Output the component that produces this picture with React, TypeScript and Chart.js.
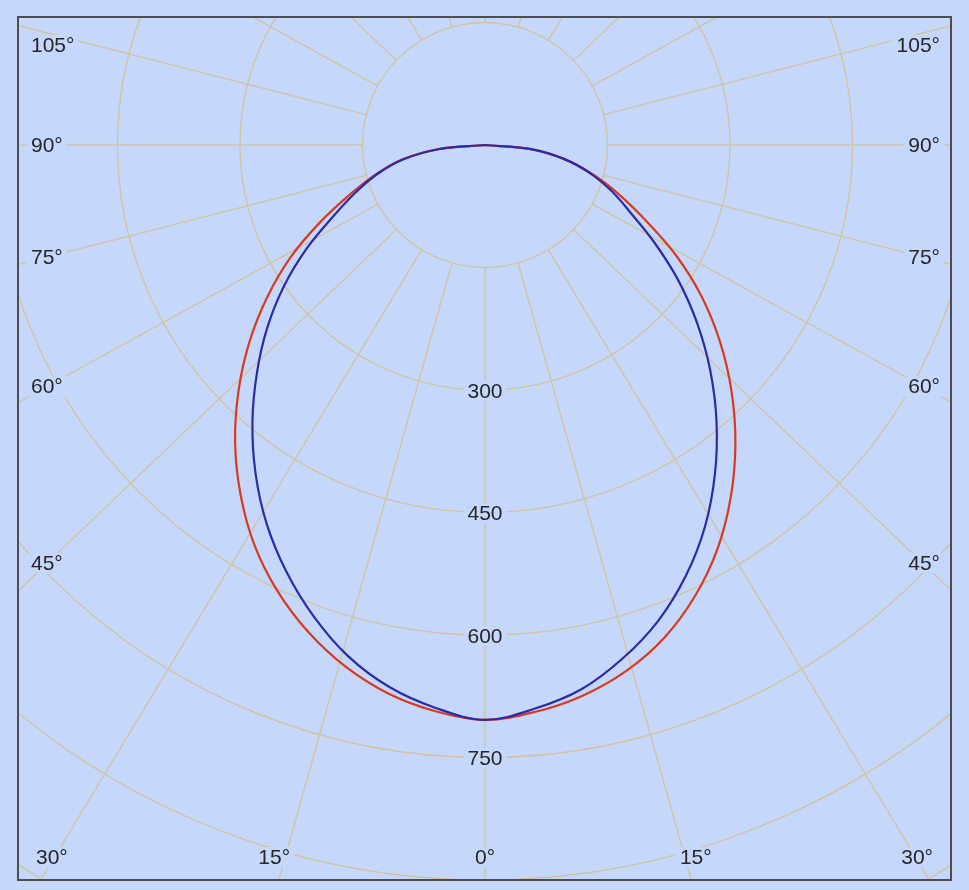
import React, { useEffect, useRef } from "react";
import { Chart, registerables } from "chart.js";

Chart.register(...registerables);

// Vertical angle gamma (degrees from nadir) and luminous intensity (cd) per C-plane half
const GAMMA_DEG = [0, 5, 10, 15, 20, 25, 30, 35, 40, 45, 50, 55, 60, 65, 70, 75, 80, 85, 90];
const C0_INTENSITY = [704, 697, 685, 667, 642, 609, 570, 525, 477, 427, 376, 324, 270, 216, 173, 135, 98, 55, 0];
const C180_INTENSITY = [704, 696, 682, 661, 634, 602, 565, 522, 476, 427, 377, 326, 275, 222, 175, 138, 104, 57, 0];
const C90_INTENSITY = [704, 693, 677, 651, 620, 582, 539, 491, 441, 390, 339, 289, 240, 197, 165, 133, 98, 55, 0];
const C270_INTENSITY = [704, 692, 674, 648, 614, 576, 535, 490, 443, 395, 348, 300, 251, 204, 168, 136, 102, 56, 0];

// Grid definition
const RING_STEP = 150;
const RING_VALUES = [150, 300, 450, 600, 750, 900, 1050, 1200];
const RING_LABEL_VALUES = [300, 450, 600, 750];
const SPOKE_STEP = 15;
const SIDE_LABEL_ANGLES = [45, 60, 75, 90, 105];
const BOTTOM_LABEL_ANGLES = [0, 15, 30];

// Axis ranges (cd)
const X_MIN = -571.83;
const X_MAX = 570.61;
const Y_MIN = -900;
const Y_MAX = 156.73;

const BG = "#c5d8fb";
const GRID = "#d0c4a2";
const AXIS = "#cbcbc6";
const TEXT = "#262626";
const BORDER = "#4d4d4d";
const RED = "#d83a1e";
const BLUE = "#2c2aa6";
const FONT = '21px "Liberation Sans", Arial, sans-serif';
const SPOKE_Y_FACTOR = 0.955;

function toPoints(left: number[], right: number[]) {
  const pts: { x: number; y: number }[] = [];
  for (let i = GAMMA_DEG.length - 1; i >= 0; i--) {
    const g = (GAMMA_DEG[i] * Math.PI) / 180;
    pts.push({ x: -left[i] * Math.sin(g), y: -left[i] * Math.cos(g) });
  }
  for (let i = 1; i < GAMMA_DEG.length; i++) {
    const g = (GAMMA_DEG[i] * Math.PI) / 180;
    pts.push({ x: right[i] * Math.sin(g), y: -right[i] * Math.cos(g) });
  }
  return pts;
}

function drawLabel(ctx: CanvasRenderingContext2D, text: string, x: number, y: number, align: "left" | "right" | "center") {
  const w = ctx.measureText(text).width;
  const x0 = align === "left" ? x : align === "right" ? x - w : x - w / 2;
  ctx.fillStyle = BG;
  ctx.fillRect(x0 - 4, y - 10, w + 8, 20);
  ctx.fillStyle = TEXT;
  ctx.textAlign = "left";
  ctx.fillText(text, x0, y + 1);
}

const polarGrid = {
  id: "polarGrid",
  beforeDraw(chart: any) {
    const ctx: CanvasRenderingContext2D = chart.ctx;
    const { left, top, right, bottom } = chart.chartArea;
    const xs = chart.scales.x;
    const ys = chart.scales.y;
    const cx = xs.getPixelForValue(0);
    const cy = ys.getPixelForValue(0);
    const ppc = (xs.getPixelForValue(RING_STEP) - cx) / RING_STEP;
    ctx.save();
    ctx.fillStyle = BG;
    ctx.fillRect(0, 0, chart.width, chart.height);
    ctx.beginPath();
    ctx.rect(left, top, right - left, bottom - top);
    ctx.clip();

    ctx.strokeStyle = GRID;
    ctx.lineWidth = 1.4;
    for (const v of RING_VALUES) {
      ctx.beginPath();
      ctx.arc(cx, cy, v * ppc, 0, Math.PI * 2);
      ctx.stroke();
    }
    const r0 = RING_VALUES[0] * ppc;
    for (let g = SPOKE_STEP; g < 360; g += SPOKE_STEP) {
      const rad = (g * Math.PI) / 180;
      let dx = Math.sin(rad);
      let dy = Math.cos(rad) * SPOKE_Y_FACTOR;
      const n = Math.hypot(dx, dy);
      dx /= n;
      dy /= n;
      ctx.beginPath();
      ctx.moveTo(cx + dx * r0, cy + dy * r0);
      ctx.lineTo(cx + dx * 2000, cy + dy * 2000);
      ctx.stroke();
    }
    ctx.strokeStyle = AXIS;
    ctx.lineWidth = 2.5;
    ctx.beginPath();
    ctx.moveTo(cx, cy + r0);
    ctx.lineTo(cx, bottom);
    ctx.stroke();

    ctx.font = FONT;
    ctx.textBaseline = "middle";
    // intensity labels on the nadir axis
    for (const v of RING_LABEL_VALUES) {
      drawLabel(ctx, String(v), cx, cy + v * ppc + 1, "center");
    }
    // side angle labels
    const sideDx = cx - left - 29;
    for (const a of SIDE_LABEL_ANGLES) {
      const rad = (a * Math.PI) / 180;
      let y = cy + (sideDx * Math.cos(rad) / Math.sin(rad)) * SPOKE_Y_FACTOR;
      y = Math.max(top + 28, y);
      drawLabel(ctx, a + "°", left + 13, y, "left");
      drawLabel(ctx, a + "°", right - 11, y, "right");
    }
    // bottom angle labels
    const by = bottom - 23;
    for (const a of BOTTOM_LABEL_ANGLES) {
      const text = a + "°";
      if (a === 0) {
        drawLabel(ctx, text, cx, by, "center");
        continue;
      }
      const rad = (a * Math.PI) / 180;
      const half = ctx.measureText(text).width / 2;
      const off = ((by - cy) * Math.tan(rad)) / SPOKE_Y_FACTOR + 11;
      const xl = Math.max(left + 18 + half, cx - off);
      const xr = Math.min(right - 18 - half, cx + off);
      drawLabel(ctx, text, xl, by, "center");
      drawLabel(ctx, text, xr, by, "center");
    }
    ctx.restore();
  },
  afterDraw(chart: any) {
    const ctx: CanvasRenderingContext2D = chart.ctx;
    const { left, top, right, bottom } = chart.chartArea;
    ctx.save();
    ctx.strokeStyle = BORDER;
    ctx.lineWidth = 2;
    ctx.strokeRect(left, top, right - left, bottom - top);
    ctx.restore();
  },
};

export default function App() {
  const ref = useRef<HTMLCanvasElement | null>(null);
  useEffect(() => {
    if (!ref.current) return;
    const chart = new Chart(ref.current, {
      type: "scatter",
      data: {
        datasets: [
          {
            label: "C90 - C270",
            data: toPoints(C270_INTENSITY, C90_INTENSITY),
            borderColor: BLUE,
            backgroundColor: BLUE,
            borderWidth: 2.2,
            showLine: true,
            pointRadius: 0,
            tension: 0.35,
            order: 0,
          },
          {
            label: "C0 - C180",
            data: toPoints(C180_INTENSITY, C0_INTENSITY),
            borderColor: RED,
            backgroundColor: RED,
            borderWidth: 2.2,
            showLine: true,
            pointRadius: 0,
            tension: 0.35,
            order: 1,
          },
        ],
      },
      options: {
        responsive: false,
        animation: false,
        devicePixelRatio: 1,
        layout: { padding: { left: 18, top: 17, right: 18, bottom: 10 } },
        scales: {
          x: { type: "linear", min: X_MIN, max: X_MAX, display: false },
          y: { type: "linear", min: Y_MIN, max: Y_MAX, display: false },
        },
        plugins: { legend: { display: false }, tooltip: { enabled: false } },
        events: [],
      },
      plugins: [polarGrid],
    } as any);
    return () => chart.destroy();
  }, []);
  return (
    <div style={{ position: "absolute", left: 0, top: 0, width: 969, height: 890, background: BG }}>
      <canvas ref={ref} width={969} height={890} style={{ display: "block" }} />
    </div>
  );
}
